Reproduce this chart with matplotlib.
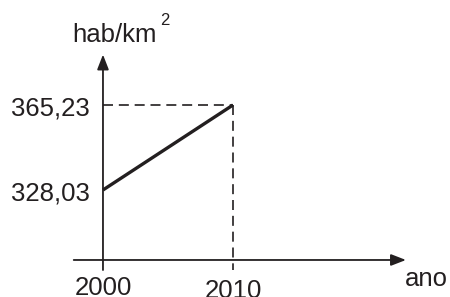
import matplotlib.pyplot as plt

plt.rcParams['font.family'] = ['Liberation Sans', 'DejaVu Sans']

anos = [2000, 2010]
densidade = [328.03, 365.23]
rotulos_y = ["328,03", "365,23"]
rotulos_x = ["2000", "2010"]

fig = plt.figure(figsize=(4.5, 2.97), dpi=100)
ax = fig.add_axes([0, 0, 1, 1])
ax.set_xlim(1992.08, 2026.69)
ax.set_ylim(281.2, 411.18)
ax.axis("off")

cor = "#231f20"
y0 = 297.4  # altura do eixo x
x0 = 2000   # posicao do eixo y

# eixos com setas
seta = dict(arrowstyle="-|>,head_length=0.9,head_width=0.35",
            color=cor, lw=1.3, shrinkA=0, shrinkB=0)
ax.annotate("", xy=(2023.3, y0), xytext=(1997.75, y0), arrowprops=seta)
ax.annotate("", xy=(x0, 387.3), xytext=(x0, 293.0), arrowprops=seta)

# linhas tracejadas
ax.plot([anos[0], anos[1]], [densidade[1], densidade[1]], color=cor,
        lw=1.2, dashes=(6, 3.5))
ax.plot([anos[1], anos[1]], [densidade[1], 293.0], color=cor,
        lw=1.2, dashes=(6, 3.5))

# dados
ax.plot(anos, densidade, color=cor, lw=2.4, solid_capstyle="butt")

# rotulos
fs = 18.5
for v, t in zip(densidade, rotulos_y):
    ax.text(1999.0, v - 4.4, t, ha="right", va="baseline", fontsize=fs, color=cor)
for a, t, yb in zip(anos, rotulos_x, [281.9, 280.6]):
    ax.text(a, yb, t, ha="center", va="baseline", fontsize=fs, color=cor)

ax.text(2024.9, 286.0, "ano", ha="center", va="baseline", fontsize=fs, color=cor)
ax.text(1997.6, 392.8, "hab/km", ha="left", va="baseline", fontsize=fs, color=cor)
ax.text(2004.4, 400.2, "2", ha="left", va="baseline", fontsize=12, color=cor)

fig.savefig("out.png", dpi=100)
